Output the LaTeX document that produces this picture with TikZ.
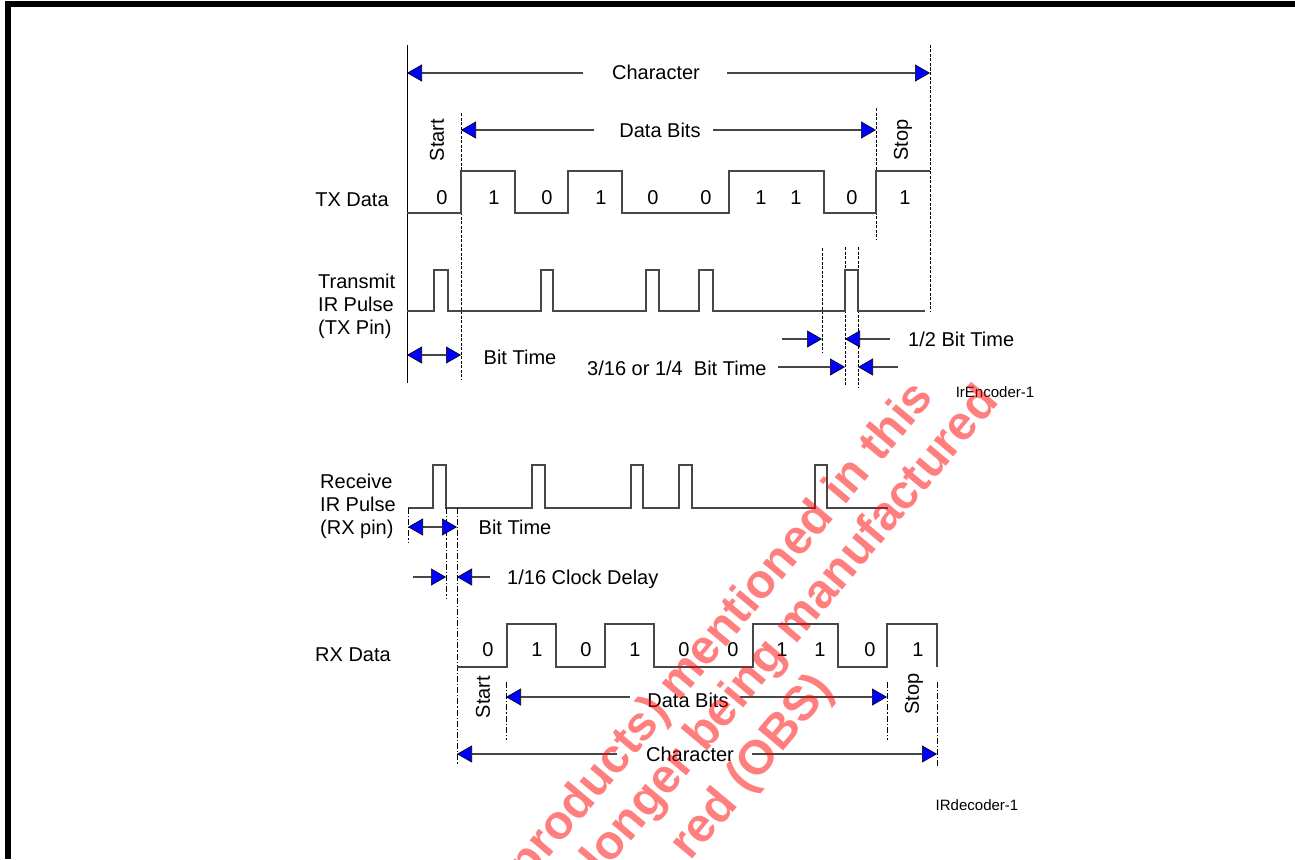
\documentclass[tikz,border=0pt]{standalone}
\usepackage{fontspec}
\setmainfont{Liberation Sans}
\usetikzlibrary{arrows.meta}
\begin{document}
\begin{tikzpicture}[x=1pt,y=-1pt,
  wave/.style={draw=black!72,line width=1.2pt},
  bnd/.style={draw=black,line width=1pt},
  dsh/.style={draw=black,line width=1pt,dash pattern=on 3pt off 1.5pt},
  dd/.style={draw=black,line width=1pt,dash pattern=on 6pt off 2pt on 1.2pt off 2pt},
  dimtip/.tip={Triangle[length=15pt,width=17pt,color=black,fill=blue,line width=0.6pt]},
  dim/.style={draw=black!72,line width=1.1pt,-dimtip},
  dimboth/.style={draw=black!72,line width=1.1pt,dimtip-dimtip},
  lbl/.style={font=\fontsize{20}{23}\selectfont,inner sep=0pt,anchor=base},
  lblw/.style={lbl,anchor=base west},
  side/.style={font=\fontsize{20}{23}\selectfont,inner sep=0pt,align=left,anchor=west},
  rot/.style={font=\fontsize{20}{23}\selectfont,inner sep=0pt,rotate=90},
  small/.style={font=\fontsize{15}{17}\selectfont,inner sep=0pt,anchor=base},
  wm/.style={font=\fontsize{48}{52}\selectfont\bfseries,text=red,text opacity=0.5,inner sep=0pt,rotate=50,anchor=base east}
]
\useasboundingbox (0,0) rectangle (1295,859);
\fill[white] (0,0) rectangle (1295,859);
% frame
\fill[black] (5,1) rectangle (1295,7);
\fill[black] (5,1) rectangle (11,859);

% ===== encoder =====
\draw[bnd] (407,45) -- (407,383);
\draw[dsh] (461,113) -- (461,380);
\draw[dsh] (930,45) -- (930,312);
\draw[dsh] (876,108) -- (876,240);
\draw[dsh] (822,248) -- (822,353);
\draw[dsh] (845,247) -- (845,385);
\draw[dsh] (858,247) -- (858,387);

\node[lbl] (chT) at (656,80) {Character};
\coordinate (chTL) at (407,73); \coordinate (chTR) at (930,73);
\coordinate (chTa) at (583,73); \coordinate (chTb) at (727,73);
\draw[dim] (chTa) -- (chTL);
\draw[dim] (chTb) -- (chTR);

\node[lbl] (dbT) at (660,137) {Data Bits};
\coordinate (dbTL) at (461,130); \coordinate (dbTR) at (876,130);
\coordinate (dbTa) at (594,130); \coordinate (dbTb) at (713,130);
\draw[dim] (dbTa) -- (dbTL);
\draw[dim] (dbTb) -- (dbTR);

\node[rot] (stT) at (437,140) {Start};
\node[rot] (spT) at (903,140) {Stop};

\node[lbl] (txd) at (352,206) {TX Data};
\draw[wave] (407,213) -- (461,213) -- (461,171) -- (515,171) -- (515,213) -- (568,213)
  -- (568,171) -- (622,171) -- (622,213) -- (729,213) -- (729,171) -- (824,171)
  -- (824,213) -- (876,213) -- (876,171) -- (930,171);
\foreach \x/\b [count=\i] in {442/0,494/1,547/0,601/1,653/0,706/0,761/1,796/1,852/0,905/1}
  \node[font=\fontsize{20}{23}\selectfont,inner sep=0pt] (tb\i) at (\x,198) {\b};

\node[side] (txp) at (318,306) {Transmit\\IR Pulse\\(TX Pin)};
\draw[wave] (407,311) -- (434,311) -- (434,270) -- (448,270) -- (448,311) -- (541,311)
  -- (541,270) -- (553,270) -- (553,311) -- (646,311) -- (646,270) -- (659,270)
  -- (659,311) -- (699,311) -- (699,270) -- (713,270) -- (713,311) -- (845,311)
  -- (845,270) -- (858,270) -- (858,311) -- (925,311);

\coordinate (btA) at (407,355); \coordinate (btB) at (461,355);
\draw[dimboth] (btA) -- (btB);
\node[lbl] (btT) at (520,364) {Bit Time};

\node[lblw] (q316) at (587,375) {3/16 or 1/4\ \ Bit Time};
\coordinate (q1) at (778,367); \coordinate (q2) at (845,367);
\coordinate (q3) at (898,367); \coordinate (q4) at (858,367);
\draw[dim] (q1) -- (q2);
\draw[dim] (q3) -- (q4);

\coordinate (h1) at (782,339); \coordinate (h2) at (822,339);
\coordinate (h3) at (890,339); \coordinate (h4) at (845,339);
\draw[dim] (h1) -- (h2);
\draw[dim] (h3) -- (h4);
\node[lblw] (half) at (908,346) {1/2 Bit Time};

\node[small] (enc) at (995,397) {IrEncoder-1};

% ===== decoder =====
\node[side] (rxp) at (320,506) {Receive\\IR Pulse\\(RX pin)};
\draw[wave] (408,508) -- (433,508) -- (433,465) -- (446,465) -- (446,508) -- (532,508)
  -- (532,465) -- (545,465) -- (545,508) -- (631,508) -- (631,465) -- (643,465)
  -- (643,508) -- (679,508) -- (679,465) -- (692,465) -- (692,508) -- (815,508)
  -- (815,465) -- (827,465) -- (827,508) -- (888,508);

\draw[dd] (408,508) -- (408,543);
\draw[dd] (446,508) -- (446,598);
\draw[dd] (457,508) -- (457,765);
\draw[dd] (506,682) -- (506,740);
\draw[dd] (887,682) -- (887,740);
\draw[dd] (937,682) -- (937,767);

\coordinate (bbA) at (408,527); \coordinate (bbB) at (457,527);
\draw[dimboth] (bbA) -- (bbB);
\node[lbl] (bbT) at (515,534) {Bit Time};

\coordinate (c1) at (413,577); \coordinate (c2) at (446,577);
\coordinate (c3) at (490,577); \coordinate (c4) at (457,577);
\draw[dim] (c1) -- (c2);
\draw[dim] (c3) -- (c4);
\node[lblw] (clk) at (507,584) {1/16 Clock Delay};

\node[lbl] (rxd) at (353,661) {RX Data};
\draw[wave] (457,667) -- (507,667) -- (507,624) -- (556,624) -- (556,667) -- (605,667)
  -- (605,624) -- (654,624) -- (654,667) -- (753,667) -- (753,624) -- (838,624)
  -- (838,667) -- (887,667) -- (887,624) -- (937,624) -- (937,667);
\foreach \x/\b [count=\i] in {488/0,537/1,586/0,635/1,684/0,733/0,782/1,820/1,870/0,918/1}
  \node[font=\fontsize{20}{23}\selectfont,inner sep=0pt] (rb\i) at (\x,650) {\b};

\node[rot] (stB) at (483,697) {Start};
\node[rot] (spB) at (914,694) {Stop};

\node[lbl] (dbB) at (688,707) {Data Bits};
\coordinate (dbBL) at (506,697); \coordinate (dbBR) at (887,697);
\coordinate (dbBa) at (630,697); \coordinate (dbBb) at (740,697);
\draw[dim] (dbBa) -- (dbBL);
\draw[dim] (dbBb) -- (dbBR);

\node[lbl] (chB) at (690,761) {Character};
\coordinate (chBL) at (457,754); \coordinate (chBR) at (937,754);
\coordinate (chBa) at (617,754); \coordinate (chBb) at (752,754);
\draw[dim] (chBa) -- (chBL);
\draw[dim] (chBb) -- (chBR);

\node[small] (dec) at (977,810) {IRdecoder-1};

% ===== watermark =====
\begin{scope}
\clip (0,0) rectangle (1295,859);
\node[wm] (wm1) at (935,398) {products) mentioned in this};
\node[wm] (wm2) at (1000,402) {longer being manufactured};
\node[wm] (wm3) at (835,690) {red (OBS)};
\end{scope}
\end{tikzpicture}
\end{document}
